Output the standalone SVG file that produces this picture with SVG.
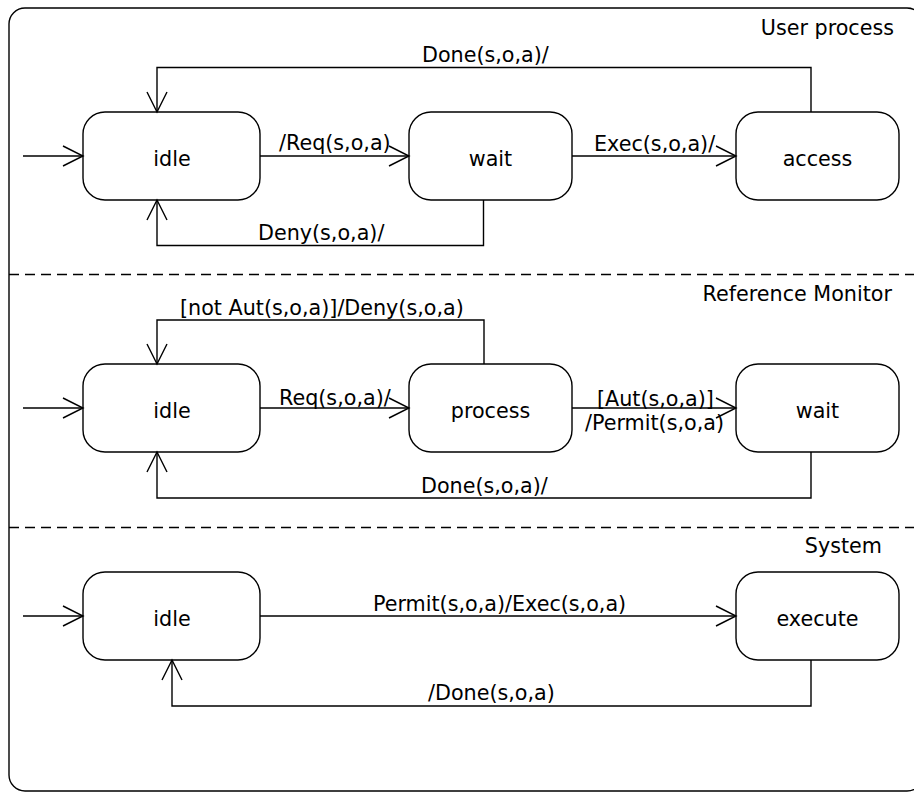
<svg xmlns="http://www.w3.org/2000/svg" width="914" height="792" viewBox="0 0 914 792">
  <style>
    .frame { fill: #fff; stroke: #000; stroke-width: 1.4; }
    .lane { fill: none; stroke: #000; stroke-width: 1.3; stroke-dasharray: 10 6; }
    .state rect { fill: #fff; stroke: #000; stroke-width: 1.4; }
    text { font-family: "DejaVu Sans", "Liberation Sans", sans-serif; font-size: 20.7px; fill: #000; }
    .state text { text-anchor: middle; }
    .title { text-anchor: end; }
    .edge { fill: none; stroke: #000; stroke-width: 1.4; marker-end: url(#open); }
  </style>
  <defs>
    <marker id="open" markerUnits="userSpaceOnUse" markerWidth="24" markerHeight="24" refX="20" refY="10" orient="auto" overflow="visible">
      <path d="M0,0 L20,10 L0,20" fill="none" stroke="#000" stroke-width="1.4"/>
    </marker>
  </defs>

  <!-- enclosing region with dashed partitions -->
  <rect class="frame" x="9" y="8" width="914" height="783" rx="16"/>
  <line class="lane" x1="9" y1="274.5" x2="914" y2="274.5"/>
  <line class="lane" x1="9" y1="527.5" x2="914" y2="527.5"/>

  <text class="title" x="894" y="35">User process</text>
  <text class="title" x="892" y="301">Reference Monitor</text>
  <text class="title" x="882" y="553">System</text>

  <!-- states -->
  <g id="user-idle" class="state"><rect x="83" y="112" width="177" height="88" rx="22"/><text x="172" y="165.5">idle</text></g>
  <g id="user-wait" class="state"><rect x="409" y="112" width="163" height="88" rx="22"/><text x="490.5" y="165.5">wait</text></g>
  <g id="user-access" class="state"><rect x="736" y="112" width="163" height="88" rx="22"/><text x="817.5" y="165.5">access</text></g>

  <g id="rm-idle" class="state"><rect x="83" y="364" width="177" height="88" rx="22"/><text x="172" y="417.5">idle</text></g>
  <g id="rm-process" class="state"><rect x="409" y="364" width="163" height="88" rx="22"/><text x="490.5" y="417.5">process</text></g>
  <g id="rm-wait" class="state"><rect x="736" y="364" width="163" height="88" rx="22"/><text x="817.5" y="417.5">wait</text></g>

  <g id="sys-idle" class="state"><rect x="83" y="572" width="177" height="88" rx="22"/><text x="172" y="625.5">idle</text></g>
  <g id="sys-execute" class="state"><rect x="736" y="572" width="163" height="88" rx="22"/><text x="817.5" y="625.5">execute</text></g>

  <!-- transitions -->
  <g id="connectors">
    <!-- user process -->
    <path class="edge" d="M23,156 H83"/>
    <path class="edge" d="M260,156 H409"/>
    <path class="edge" d="M572,156 H736"/>
    <path class="edge" d="M811,112 V67.5 H157 V112"/>
    <path class="edge" d="M483.5,200 V245.5 H157 V200"/>
    <text x="279" y="150">/Req(s,o,a)</text>
    <text x="594" y="151">Exec(s,o,a)/</text>
    <text x="422" y="62">Done(s,o,a)/</text>
    <text x="258" y="240">Deny(s,o,a)/</text>

    <!-- reference monitor -->
    <path class="edge" d="M23,408 H83"/>
    <path class="edge" d="M260,408 H409"/>
    <path class="edge" d="M572,408 H736"/>
    <path class="edge" d="M484,364 V320 H157 V364"/>
    <path class="edge" d="M811,452 V498 H157 V452"/>
    <text x="180" y="315">[not Aut(s,o,a)]/Deny(s,o,a)</text>
    <text x="279" y="405">Req(s,o,a)/</text>
    <text x="597" y="406">[Aut(s,o,a)]</text>
    <text x="585" y="430">/Permit(s,o,a)</text>
    <text x="421" y="493">Done(s,o,a)/</text>

    <!-- system -->
    <path class="edge" d="M23,616 H83"/>
    <path class="edge" d="M260,616 H736"/>
    <path class="edge" d="M811,660 V706 H172 V660"/>
    <text x="373" y="611">Permit(s,o,a)/Exec(s,o,a)</text>
    <text x="428" y="700">/Done(s,o,a)</text>
  </g>
</svg>
